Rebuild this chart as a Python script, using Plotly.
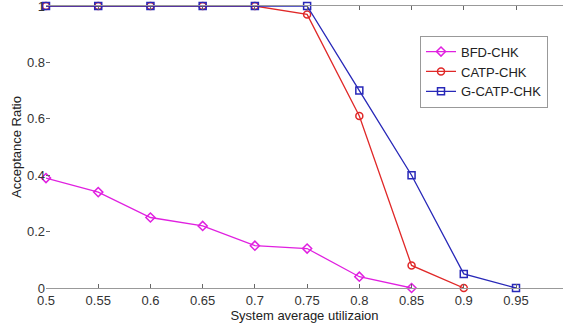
import plotly.graph_objects as go

x_vals = [0.5, 0.55, 0.6, 0.65, 0.7, 0.75, 0.8, 0.85, 0.9, 0.95]
bfd_chk = [0.39, 0.34, 0.25, 0.22, 0.15, 0.14, 0.04, 0.0]
catp_chk = [1.0, 1.0, 1.0, 1.0, 1.0, 0.97, 0.61, 0.08, 0.0]
gcatp_chk = [1.0, 1.0, 1.0, 1.0, 1.0, 1.0, 0.70, 0.40, 0.05, 0.0]
x_ticks = [0.5, 0.55, 0.6, 0.65, 0.7, 0.75, 0.8, 0.85, 0.9, 0.95]
x_tick_text = ["0.5", "0.55", "0.6", "0.65", "0.7", "0.75", "0.8", "0.85", "0.9", "0.95"]
y_ticks = [0, 0.2, 0.4, 0.6, 0.8, 1.0]
y_tick_text = ["0", "0.2", "0.4", "0.6", "0.8", "1"]

series = [
    ("BFD-CHK", bfd_chk, "#e020e0", "diamond-open"),
    ("CATP-CHK", catp_chk, "#e02828", "circle-open"),
    ("G-CATP-CHK", gcatp_chk, "#2828b8", "square-open"),
]

fig = go.Figure()
for name, ys, color, sym in series:
    fig.add_trace(go.Scatter(
        x=x_vals[:len(ys)], y=ys, name=name, mode="lines+markers",
        line=dict(color=color, width=1.3),
        marker=dict(symbol=sym, size=7, color=color, line=dict(width=1.5, color=color)),
        cliponaxis=False,
    ))

fig.update_layout(
    width=563, height=324,
    margin=dict(l=46, r=0, t=6, b=36, autoexpand=False),
    paper_bgcolor="white", plot_bgcolor="white",
    font=dict(family="Arial, Liberation Sans, sans-serif", size=13, color="#333"),
    showlegend=True,
    legend=dict(x=0.971, y=0.895, xanchor="right", yanchor="top",
                bgcolor="white", bordercolor="#999", borderwidth=1,
                font=dict(size=13, color="#222"),
                tracegroupgap=0, itemwidth=30),
)
fig.update_xaxes(
    range=[0.5, 0.995], tickvals=x_ticks, ticktext=x_tick_text,
    ticks="inside", ticklen=4, tickcolor="#666", automargin=False,
    showline=True, linecolor="#999", linewidth=1, mirror="ticks",
    showgrid=False, zeroline=False, ticklabeloverflow="allow",
    title=dict(text="System average utilizaion", standoff=0, font=dict(size=13, color="#222")),
)
fig.update_yaxes(
    range=[0, 1], tickvals=y_ticks, ticktext=y_tick_text,
    ticks="inside", ticklen=4, tickcolor="#666", automargin=False,
    showline=False, showgrid=False, zeroline=False, ticklabeloverflow="allow",
    title=dict(text="Acceptance Ratio", standoff=2, font=dict(size=13, color="#222")),
)
fig.write_html("out.html", config={"displayModeBar": False},
               post_script="document.body.style.margin='0';")
